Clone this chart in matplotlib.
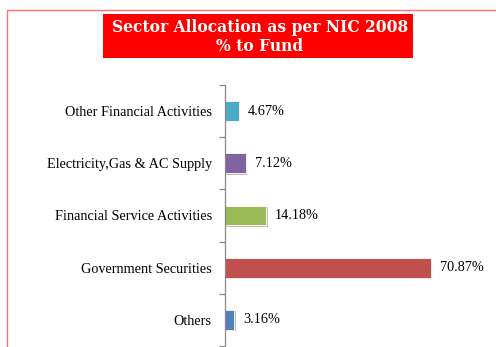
import matplotlib
matplotlib.use("Agg")
import matplotlib.pyplot as plt
import matplotlib.patheffects as pe
from matplotlib.patches import Rectangle

categories = ["Others", "Government Securities", "Financial Service Activities",
              "Electricity,Gas & AC Supply", "Other Financial Activities"]
values = [3.16, 70.87, 14.18, 7.12, 4.67]
colors = ["#4F81BD", "#C0504D", "#9BBB59", "#8064A2", "#4BACC6"]
value_labels = ["3.16%", "70.87%", "14.18%", "7.12%", "4.67%"]

W, H = 496, 347
fig = plt.figure(figsize=(W / 100, H / 100), dpi=100)

# outer frame
fig.patches.append(Rectangle((7 / W, -0.1), 1.2, 1 - 10 / H + 0.1, transform=fig.transFigure,
                             fill=False, edgecolor="#FF6F6F", linewidth=1.0))

ax = fig.add_axes([225 / W, 1 / H, 232 / W, 261 / H])
y = list(range(len(categories)))
bars = ax.barh(y, values, height=0.38, color=colors, edgecolor="white", linewidth=0.6,
               path_effects=[pe.SimplePatchShadow(offset=(1.0, -1.0), alpha=0.3), pe.Normal()])
ax.set_xlim(0, 80)
ax.set_ylim(-0.5, len(categories) - 0.5)
for s in ["top", "right", "bottom"]:
    ax.spines[s].set_visible(False)
ax.spines["left"].set_color("#888888")
ax.spines["left"].set_linewidth(0.9)
ax.set_xticks([])
ax.set_yticks(y)
ax.set_yticklabels(categories, fontfamily="Liberation Serif", fontsize=10.3)
ax.tick_params(axis="y", which="major", length=0, pad=9.5)
ax.set_yticks([i - 0.5 for i in range(len(categories) + 1)], minor=True)
ax.tick_params(axis="y", which="minor", length=4, color="#888888", width=0.9)
for yi, v, lab in zip(y, values, value_labels):
    ax.annotate(lab, (v, yi), xytext=(6.5, 0), textcoords="offset points", va="center",
                ha="left", fontfamily="Liberation Serif", fontsize=10.3)

# title box
fig.patches.append(Rectangle((103 / W, 1 - 58 / H), 310 / W, 44 / H, transform=fig.transFigure,
                             facecolor="#FF0000", edgecolor="none"))
fig.text(260 / W, 1 - 37 / H, "Sector Allocation as per NIC 2008\n% to Fund", ha="center",
         va="center", color="white", fontfamily="DejaVu Serif", fontweight="bold",
         fontsize=11.2, linespacing=1.12)

fig.savefig("out.png", dpi=100)
